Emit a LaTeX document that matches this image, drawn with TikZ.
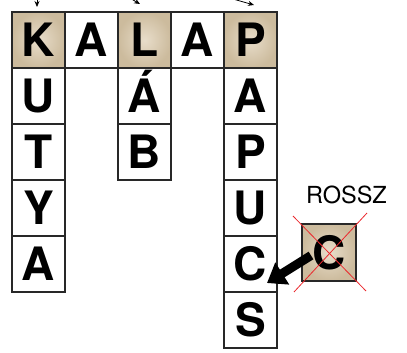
\documentclass[tikz,border=0pt]{standalone}
\usepackage{fontspec}
\setmainfont{TeX Gyre Heros}
\usetikzlibrary{arrows.meta, positioning, calc}
\definecolor{tilelight}{RGB}{232,221,202}
\definecolor{tiledark}{RGB}{204,187,157}
\definecolor{gridline}{RGB}{40,40,40}
\definecolor{wrongred}{RGB}{235,40,45}

\begin{document}
\begin{tikzpicture}[x=1pt, y=-1pt,
  cell/.style={draw=gridline, line width=1.1pt, fill=white, minimum width=53pt,
    minimum height=56pt, inner sep=0pt, outer sep=0pt, anchor=north west,
    font=\fontsize{46}{46}\selectfont\bfseries, text height=33pt, text depth=0pt},
  tile/.style={cell, inner color=tilelight, outer color=tiledark}]
  \useasboundingbox (0,0) rectangle (407,353);
  % first row
  \node[tile] (k1) at (12,12) {K};
  \node[cell] (a1) at (65,12) {A};
  \node[tile] (l1) at (118,12) {L};
  \node[cell] (a2) at (171,12) {A};
  \node[tile] (p1) at (224,12) {P};
  % the columns going down
  \foreach \ch/\i/\j in {U/2/1, T/3/2, Y/4/3, A/5/4}
    \node[cell, below=0pt of k\j] (k\i) {\ch};
  \foreach \ch/\i/\j in {Á/2/1, B/3/2}
    \node[cell, below=0pt of l\j] (l\i) {\ch};
  \foreach \ch/\i/\j in {A/2/1, P/3/2, U/4/3, C/5/4, S/6/5}
    \node[cell, below=0pt of p\j] (p\i) {\ch};
  % little arrows at the top
  \coordinate (ktip) at (37,7);
  \coordinate (ltip) at (140,4);
  \coordinate (ptip) at (254,5);
  \draw[line width=0.8pt, -{Stealth[length=6pt, width=5pt]}] (37,-3) -- (ktip);
  \draw[line width=0.8pt, -{Stealth[length=6pt, width=5pt]}] (128,-3) -- (ltip);
  \draw[line width=0.8pt, -{Stealth[length=6pt, width=5pt]}] (233,-1) -- (ptip);
  % the wrong tile
  \node[tile, minimum width=54pt, minimum height=57pt] (wrong) at (302,224) {C};
  \node[font=\fontsize{23.5}{23.5}\selectfont, anchor=base] (rossz) at (346.5,203) {ROSSZ};
  \draw[wrongred, line width=0.8pt] ($(wrong.north west)+(-9,-8)$) -- ($(wrong.south east)+(10,10)$);
  \draw[wrongred, line width=0.8pt] ($(wrong.north east)+(11,-11)$) -- ($(wrong.south west)+(-8,11)$);
  \draw[line width=9pt, -{Triangle[length=18pt, width=25pt]}]
    ($(wrong.west)+(9,3)$) -- ($(p5.south east)+(-10,-9)$);
\end{tikzpicture}
\end{document}
